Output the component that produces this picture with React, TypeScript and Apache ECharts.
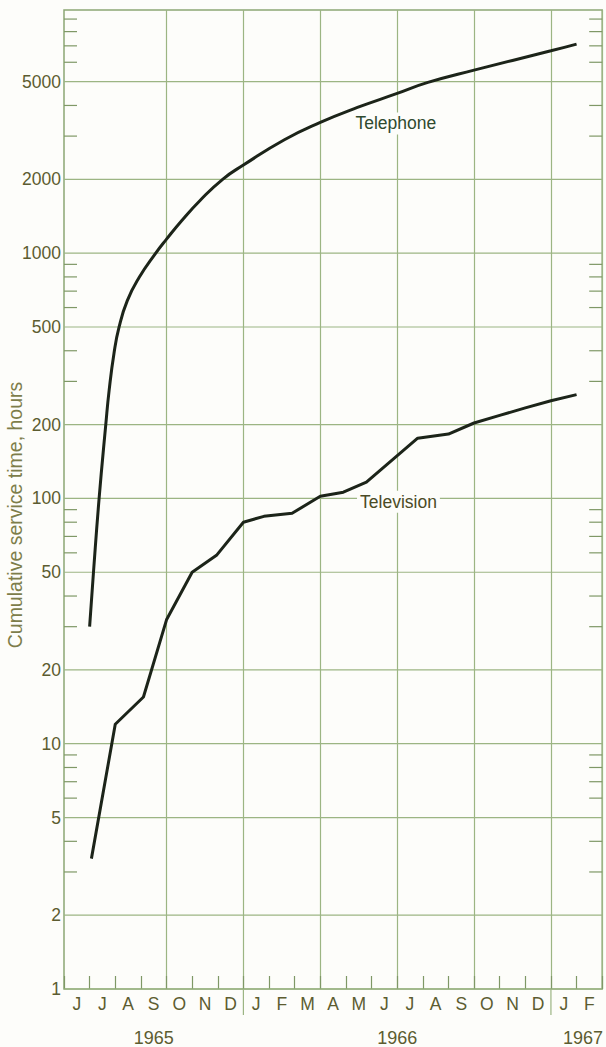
import React, { useEffect, useRef } from "react";
import * as echarts from "echarts";

const monthLabels = ["J", "J", "A", "S", "O", "N", "D", "J", "F", "M", "A", "M", "J", "J", "A", "S", "O", "N", "D", "J", "F"];
const yearNames = ["1965", "1966", "1967"];
const yearCentersQuarterMonths = [14, 52, 81];
const gridValues = [1, 2, 5, 10, 20, 50, 100, 200, 500, 1000, 2000, 5000];
const minorTickValues = [3, 4, 6, 7, 8, 9, 30, 40, 60, 70, 80, 90, 300, 400, 600, 700, 800, 900, 3000, 4000, 6000, 7000, 8000, 9000];
const quarterBoundaries = [4, 7, 10, 13, 16, 19];
const yearBoundaries = [7, 19];

const telephoneMonths = [1.0, 1.15, 1.37, 1.63, 1.76, 1.95, 2.15, 2.47, 2.93, 3.58, 4.0, 4.59, 5.3, 6.19, 7.0, 8.6, 10.0, 11.45, 13.0, 14.2, 16.0, 19.0, 20.0];
const telephoneValues = [30, 50, 100, 200, 275, 390, 500, 640, 795, 1000, 1140, 1356, 1636, 2000, 2286, 2900, 3413, 3926, 4478, 4966, 5574, 6680, 7115];

const televisionMonths = [1.07, 2.0, 3.1, 4.0, 5.0, 5.95, 7.0, 7.8, 8.9, 10.0, 10.9, 11.8, 13.8, 15.0, 16.0, 17.0, 18.0, 19.0, 20.0];
const televisionValues = [3.4, 12.0, 15.5, 32, 50, 58.6, 80, 84.5, 87, 102, 106, 116.5, 176, 183, 203, 218, 234, 250, 265];

const telephoneLabelAt = [12.95, 3380];
const televisionLabelAt = [13.05, 97];

const FONT = "Liberation Sans";
const BG = "#fdfdfa";
const GRID_COLOR = "#9cb583";
const FRAME_COLOR = "#8ca674";
const TICK_COLOR = "#7f9866";
const LABEL_COLOR = "#5c5c30";
const LINE_COLOR = "#1c2419";
const X_MAX = 21;

export default function App() {
  const ref = useRef<HTMLDivElement>(null);

  useEffect(() => {
    if (!ref.current) return;
    const chart = echarts.init(ref.current, null, { renderer: "svg" });

    const option: any = {
      animation: false,
      backgroundColor: BG,
      grid: {
        left: 64,
        right: 3,
        top: 10,
        bottom: 58,
        show: true,
        borderColor: FRAME_COLOR,
        borderWidth: 1.5,
        backgroundColor: "transparent",
      },
      xAxis: [
        { type: "value", min: 0, max: X_MAX, show: false },
        {
          type: "category",
          data: monthLabels,
          boundaryGap: true,
          position: "bottom",
          axisLine: { show: false },
          axisTick: { show: true, inside: true, length: 13, interval: 0, lineStyle: { color: TICK_COLOR, width: 1.2 } },
          axisLabel: { interval: 0, margin: 6, fontSize: 17.5, color: LABEL_COLOR, fontFamily: FONT },
          splitLine: {
            show: true,
            interval: (index: number) => quarterBoundaries.indexOf(index) >= 0,
            lineStyle: { color: GRID_COLOR, width: 1.2 },
          },
        },
        {
          type: "value",
          min: 0,
          max: X_MAX * 4,
          interval: 1,
          position: "bottom",
          axisLine: { show: false },
          axisTick: { show: false },
          splitLine: { show: false },
          axisLabel: {
            margin: 40,
            fontSize: 18,
            color: LABEL_COLOR,
            fontFamily: FONT,
            formatter: (v: number) => {
              const i = yearCentersQuarterMonths.indexOf(v);
              return i >= 0 ? yearNames[i] : "";
            },
          },
        },
      ],
      yAxis: {
        type: "log",
        logBase: 10,
        min: 1,
        max: 9800,
        axisLine: { show: false },
        axisTick: { show: false },
        axisLabel: { show: false },
        splitLine: { show: false },
      },
      graphic: [
        {
          type: "text",
          x: 15,
          y: 515,
          rotation: Math.PI / 2,
          style: {
            text: "Cumulative service time, hours",
            fontSize: 19.5,
            fontFamily: FONT,
            fill: "#7d7d4a",
            align: "center",
            verticalAlign: "middle",
          },
        },
      ],
      series: [
        {
          type: "custom",
          name: "gridlines",
          xAxisIndex: 0,
          z: 1,
          silent: true,
          data: gridValues.map((v) => [0, v]),
          renderItem: (params: any, api: any) => {
            const v = api.value(1);
            const a = api.coord([0, v]);
            const b = api.coord([X_MAX, v]);
            return {
              type: "group",
              children: [
                { type: "line", shape: { x1: a[0], y1: a[1], x2: b[0], y2: b[1] }, style: { stroke: GRID_COLOR, lineWidth: 1.2 } },
                {
                  type: "text",
                  x: a[0] - 3,
                  y: a[1],
                  style: { text: String(v), align: "right", verticalAlign: "middle", fontSize: 17.5, fontFamily: FONT, fill: LABEL_COLOR },
                },
              ],
            };
          },
        },
        {
          type: "custom",
          name: "minorTicks",
          xAxisIndex: 0,
          z: 1,
          silent: true,
          data: minorTickValues.map((v) => [0, v]),
          renderItem: (params: any, api: any) => {
            const v = api.value(1);
            const a = api.coord([0, v]);
            const b = api.coord([X_MAX, v]);
            return {
              type: "group",
              children: [
                { type: "line", shape: { x1: a[0], y1: a[1], x2: a[0] + 13, y2: a[1] }, style: { stroke: TICK_COLOR, lineWidth: 1.2 } },
                { type: "line", shape: { x1: b[0] - 13, y1: b[1], x2: b[0], y2: b[1] }, style: { stroke: TICK_COLOR, lineWidth: 1.2 } },
              ],
            };
          },
        },
        {
          type: "custom",
          name: "yearTicks",
          xAxisIndex: 0,
          z: 1,
          silent: true,
          data: yearBoundaries.map((m) => [m, 1]),
          renderItem: (params: any, api: any) => {
            const p = api.coord([api.value(0), api.value(1)]);
            return { type: "line", shape: { x1: p[0], y1: p[1], x2: p[0], y2: p[1] + 26 }, style: { stroke: GRID_COLOR, lineWidth: 1.2 } };
          },
        },
        {
          type: "line",
          name: "Telephone",
          xAxisIndex: 0,
          z: 3,
          smooth: 0.5,
          showSymbol: false,
          symbol: "none",
          lineStyle: { color: LINE_COLOR, width: 3 },
          data: telephoneMonths.map((m, i) => [m, telephoneValues[i]]),
          markPoint: {
            symbol: "circle",
            symbolSize: 1,
            itemStyle: { color: "transparent" },
            label: {
              show: true,
              position: "inside",
              formatter: "Telephone",
              fontSize: 17.5,
              fontFamily: FONT,
              color: "#2f4a2f",
              backgroundColor: BG,
              padding: [2, 3],
            },
            data: [{ coord: telephoneLabelAt }],
          },
        },
        {
          type: "line",
          name: "Television",
          xAxisIndex: 0,
          z: 3,
          showSymbol: false,
          symbol: "none",
          lineStyle: { color: LINE_COLOR, width: 3, join: "round" },
          data: televisionMonths.map((m, i) => [m, televisionValues[i]]),
          markPoint: {
            symbol: "circle",
            symbolSize: 1,
            itemStyle: { color: "transparent" },
            label: {
              show: true,
              position: "inside",
              formatter: "Television",
              fontSize: 17.5,
              fontFamily: FONT,
              color: "#4b4b26",
              backgroundColor: BG,
              padding: [2, 3],
            },
            data: [{ coord: televisionLabelAt }],
          },
        },
      ],
    };

    chart.setOption(option);
    return () => chart.dispose();
  }, []);

  return <div ref={ref} style={{ position: "fixed", left: 0, top: 0, width: 606, height: 1047 }} />;
}
